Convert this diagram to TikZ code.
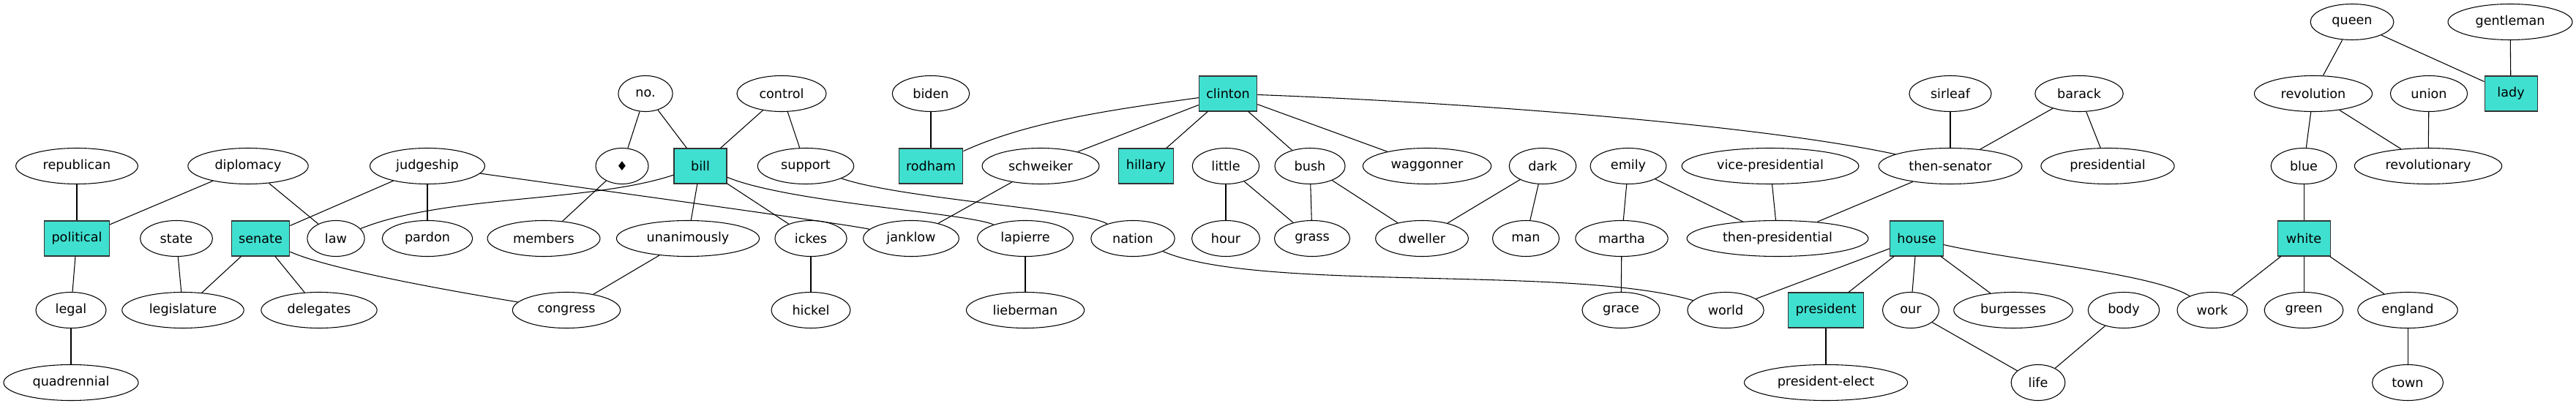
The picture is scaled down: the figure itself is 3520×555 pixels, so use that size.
\documentclass[tikz,border=0pt]{standalone}
\usepackage{fontspec}
\setmainfont{DejaVu Sans}
\usepackage{tikz}
\usetikzlibrary{shapes.geometric}

\definecolor{turq}{HTML}{40E0D0}
\tikzset{
	word/.style = {ellipse, draw, minimum width = 54pt, minimum height = 36.75pt, inner xsep = 9.5pt, inner ysep = 2pt},
	topic/.style = {rectangle, draw = black!80, fill = turq, minimum width = 54pt, minimum height = 36pt, inner xsep = 7.5pt}
}

\begin{document}
\begin{tikzpicture} [x = 0.75pt, y = -0.75pt, line width = 0.8pt, font = \fontsize{13.2}{15}\selectfont]
	\useasboundingbox (0,0) rectangle (3520,555);
	% top rows
	\node [word] (queen) at (3214,30) {queen};
	\node [word] (gentleman) at (3430,30) {gentleman};
	\node [word] (no) at (882,128) {no.};
	\node [word] (control) at (1068,128) {control};
	\node [word] (biden) at (1272,128) {biden};
	\node [topic] (clinton) at (1678,128) {clinton};
	\node [word] (sirleaf) at (2665,128) {sirleaf};
	\node [word] (barack) at (2841,128) {barack};
	\node [word] (revolution) at (3161,128) {revolution};
	\node [word] (union) at (3319,128) {union};
	\node [topic] (lady) at (3431,128) {lady};
	\node [word] (republican) at (105,227) {republican};
	\node [word] (diplomacy) at (339,227) {diplomacy};
	\node [word] (judgeship) at (584,227) {judgeship};
	\node [word] (diam) at (850,227) {♦};
	\node [topic] (bill) at (957,227) {bill};
	\node [word] (support) at (1101,227) {support};
	\node [topic] (rodham) at (1272,227) {rodham};
	\node [word] (schweiker) at (1422,227) {schweiker};
	\node [topic] (hillary) at (1566,227) {hillary};
	\node [word] (little) at (1675,227) {little};
	\node [word] (bush) at (1790,227) {bush};
	\node [word] (waggonner) at (1950,227) {waggonner};
	\node [word] (dark) at (2108,227) {dark};
	\node [word] (emily) at (2225,227) {emily};
	\node [word] (vicepres) at (2419,227) {vice-presidential};
	\node [word] (thensenator) at (2665,227) {then-senator};
	\node [word] (presidential) at (2880,227) {presidential};
	\node [word] (blue) at (3148,227) {blue};
	\node [word] (revolutionary) at (3318,227) {revolutionary};
	% middle row
	\node [topic] (political) at (105,326) {political};
	\node [word] (state) at (241,326) {state};
	\node [topic] (senate) at (356,326) {senate};
	\node [word] (law) at (459,326) {law};
	\node [word] (pardon) at (584,326) {pardon};
	\node [word] (members) at (743,326) {members};
	\node [word] (unanimously) at (940,326) {unanimously};
	\node [word] (ickes) at (1108,326) {ickes};
	\node [word] (janklow) at (1245,326) {janklow};
	\node [word] (lapierre) at (1401,326) {lapierre};
	\node [word] (nation) at (1548,326) {nation};
	\node [word] (hour) at (1675,326) {hour};
	\node [word] (grass) at (1793,326) {grass};
	\node [word] (dweller) at (1943,326) {dweller};
	\node [word] (man) at (2085,326) {man};
	\node [word] (martha) at (2216,326) {martha};
	\node [word] (thenpres) at (2429,326) {then-presidential};
	\node [topic] (house) at (2619,326) {house};
	\node [topic] (white) at (3148,326) {white};
	% bottom rows
	\node [word] (legal) at (97,424) {legal};
	\node [word] (legislature) at (250,424) {legislature};
	\node [word] (delegates) at (436,424) {delegates};
	\node [word] (congress) at (774,424) {congress};
	\node [word] (hickel) at (1108,424) {hickel};
	\node [word] (lieberman) at (1401,424) {lieberman};
	\node [word] (grace) at (2215,424) {grace};
	\node [word] (world) at (2358,424) {world};
	\node [topic] (president) at (2495,424) {president};
	\node [word] (our) at (2611,424) {our};
	\node [word] (burgesses) at (2751,424) {burgesses};
	\node [word] (body) at (2902,424) {body};
	\node [word] (work) at (3023,424) {work};
	\node [word] (green) at (3148,424) {green};
	\node [word] (england) at (3290,424) {england};
	\node [word] (quadrennial) at (97,523) {quadrennial};
	\node [word] (preselect) at (2495,523) {president-elect};
	\node [word] (life) at (2785,523) {life};
	\node [word] (town) at (3290,523) {town};

	\draw (republican) -- (political);
	\draw (diplomacy) -- (political);
	\draw (diplomacy) -- (law);
	\draw (judgeship) -- (senate);
	\draw (judgeship) -- (pardon);
	\draw (judgeship) .. controls +(250,35) and +(-90,-20) .. (janklow);
	\draw (no) -- (diam);
	\draw (no) -- (bill);
	\draw (diam) -- (members);
	\draw (control) -- (bill);
	\draw (control) -- (support);
	\draw (biden) -- (rodham);
	\draw (clinton) .. controls +(-151,21) and +(135,-62) .. (rodham);
	\draw (clinton) -- (schweiker);
	\draw (clinton) -- (hillary);
	\draw (clinton) -- (bush);
	\draw (clinton) -- (waggonner);
	\draw (clinton) .. controls +(322,12) and +(-265,-57) .. (thensenator);
	\draw (law) .. controls +(150,-60) and +(-150,50) .. (bill);
	\draw (bill) -- (unanimously);
	\draw (bill) -- (ickes);
	\draw (bill) .. controls +(120,50) and +(-80,-35) .. (lapierre);
	\draw (support) .. controls +(130,45) and +(-70,-40) .. (nation);
	\draw (schweiker) -- (janklow);
	\draw (political) -- (legal);
	\draw (legal) -- (quadrennial);
	\draw (state) -- (legislature);
	\draw (senate) -- (legislature);
	\draw (senate) -- (delegates);
	\draw (senate) .. controls +(100,45) and +(-120,-20) .. (congress);
	\draw (unanimously) -- (congress);
	\draw (ickes) -- (hickel);
	\draw (lapierre) -- (lieberman);
	\draw (nation) .. controls +(172,74) and +(-208,-62) .. (world);
	\draw (little) -- (hour);
	\draw (little) -- (grass);
	\draw (bush) -- (grass);
	\draw (bush) -- (dweller);
	\draw (dark) -- (dweller);
	\draw (dark) -- (man);
	\draw (emily) -- (martha);
	\draw (emily) -- (thenpres);
	\draw (vicepres) -- (thenpres);
	\draw (thensenator) -- (thenpres);
	\draw (martha) -- (grace);
	\draw (sirleaf) -- (thensenator);
	\draw (barack) -- (thensenator);
	\draw (barack) -- (presidential);
	\draw (house) -- (world);
	\draw (house) -- (president);
	\draw (house) -- (our);
	\draw (house) -- (burgesses);
	\draw (house) .. controls +(130,30) and +(-80,-50) .. (work);
	\draw (president) -- (preselect);
	\draw (our) -- (life);
	\draw (body) -- (life);
	\draw (queen) -- (revolution);
	\draw (queen) -- (lady);
	\draw (gentleman) -- (lady);
	\draw (revolution) -- (blue);
	\draw (revolution) -- (revolutionary);
	\draw (union) -- (revolutionary);
	\draw (blue) -- (white);
	\draw (white) -- (work);
	\draw (white) -- (green);
	\draw (white) -- (england);
	\draw (england) -- (town);
\end{tikzpicture}
\end{document}
